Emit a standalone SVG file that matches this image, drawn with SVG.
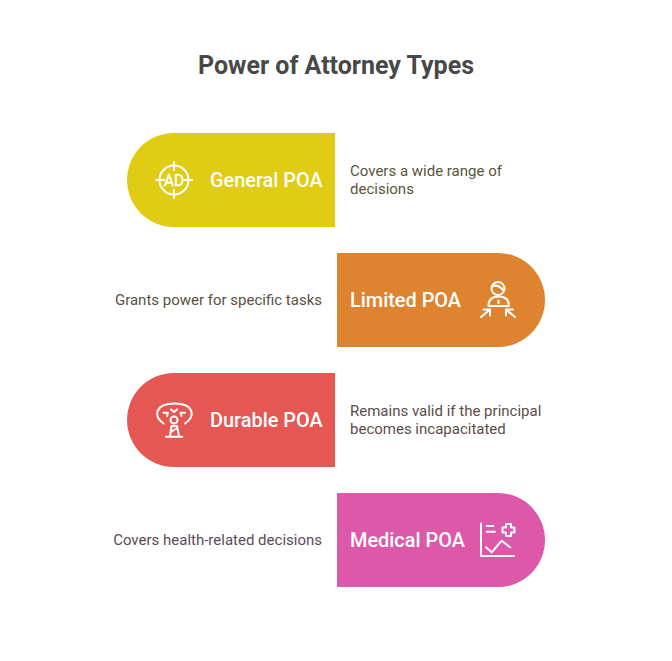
<svg xmlns="http://www.w3.org/2000/svg" width="672" height="661" viewBox="0 0 672 661">
<style>
.t{font-family:Roboto,"Liberation Sans",sans-serif}
.title{font-size:25px;font-weight:700;fill:#484848;text-anchor:middle}
.lab{font-size:19.9px;font-weight:500;fill:#ffffff}
.d{font-size:15px}
.ic{fill:none;stroke:#ffffff;stroke-width:2;stroke-linecap:round;stroke-linejoin:round}
</style>
<rect width="672" height="661" fill="#ffffff"/>
<text class="t title" x="336" y="74">Power of Attorney Types</text>
<g id="connectors"></g>
<g id="node-general">
<path d="M335 133H174a47 47 0 0 0 0 94H335Z" fill="#e0cc14"/>
<g class="ic"><circle cx="174" cy="180" r="14.5"/><path d="M174 162V170M174 190V198M156 180H164M184 180H192"/></g>
<text class="t" x="174" y="186" text-anchor="middle" font-size="17" fill="#ffffff" stroke="#ffffff" stroke-width="0.5" textLength="20" lengthAdjust="spacingAndGlyphs">AD</text>
<text class="t lab" x="210" y="186.500">General POA</text>
<text class="t d" x="350" y="176" fill="#59553a">Covers a wide range of</text>
<text class="t d" x="350" y="194" fill="#59553a">decisions</text>
</g>
<g id="node-limited">
<path d="M337 253H498a47 47 0 0 1 0 94H337Z" fill="#de8431"/>
<g class="ic"><circle cx="498" cy="288.500" r="6.500"/><path d="M492 286.500Q498 283.500 504 291"/><path d="M488.500 306Q488.500 296.500 498.500 296.500Q509 296.500 509 306ZM498.500 300.500V303"/><path d="M481 317L490 309.500M483.500 309.500H490V315.500M515 317L506 309.500M513 309.500H506V315.500"/></g>
<text class="t lab" x="350" y="306.500">Limited POA</text>
<text class="t d" x="322" y="305" text-anchor="end" fill="#5c5044">Grants power for specific tasks</text>
</g>
<g id="node-durable">
<path d="M335 373H174a47 47 0 0 0 0 94H335Z" fill="#e55753"/>
<g class="ic"><path d="M163.500 423.500C153 416 155 403.500 174.500 403.500C194 403.500 196 416 185 423.500"/><circle cx="174" cy="420" r="3.500"/><path d="M170 436L171.500 426H177L179 436M166 436.700H182.300M171 432L177 428"/><path d="M163.500 412.700H168L167 416M171 409.500L174 412L177 409.500M185 412.700H180.500L181.500 416"/></g>
<text class="t lab" x="210" y="426.500">Durable POA</text>
<text class="t d" x="350" y="416" fill="#5c4c4a">Remains valid if the principal</text>
<text class="t d" x="350" y="434" fill="#5c4c4a">becomes incapacitated</text>
</g>
<g id="node-medical">
<path d="M337 493H498a47 47 0 0 1 0 94H337Z" fill="#de58a9"/>
<g class="ic"><path d="M481 523.500V556H514M486.700 526H493.300M486.700 531.700H495M486 547.300L491.700 552.300L501.700 540.700L510 547.300"/><path d="M506 524H511V527.500H514.500V532.500H511V536H506V532.500H502.500V527.500H506Z"/></g>
<text class="t lab" x="350" y="546.500">Medical POA</text>
<text class="t d" x="322" y="545" text-anchor="end" fill="#5e4a58">Covers health-related decisions</text>
</g>
</svg>
